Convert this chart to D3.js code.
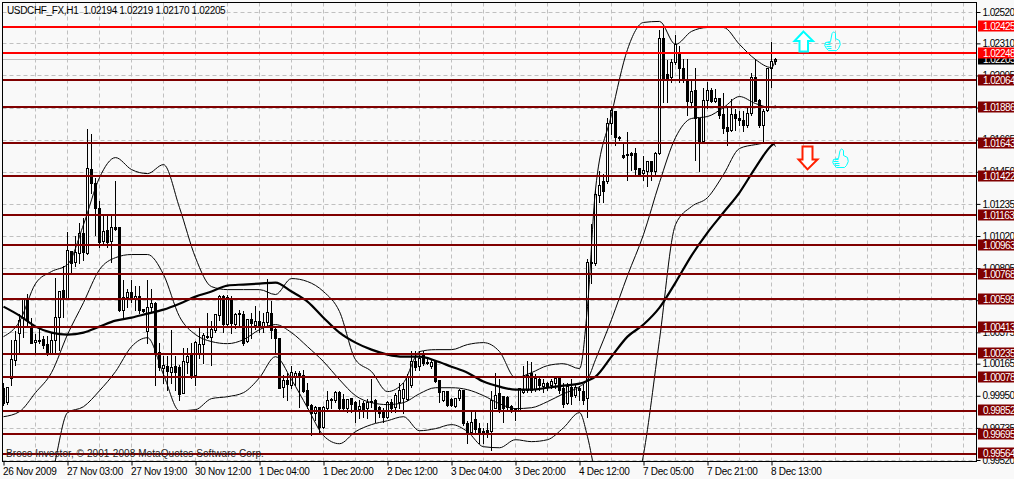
<!DOCTYPE html>
<html><head><meta charset="utf-8">
<script src="https://cdn.jsdelivr.net/npm/d3@7"></script>
<style>
html,body{margin:0;padding:0;background:#f9f9f9;overflow:hidden}
svg{display:block}
text{font-family:"Liberation Sans",Arial,sans-serif;font-size:10px;white-space:pre}
</style></head><body>
<svg id="c" width="1014" height="479"></svg>
<script>
// Prices are held as broker points (1 point = 0.00001)
const POINT = 1e-5;
const highs = [100045,100018,100333,100393,100507,100614,100641,100480,100373,100413,100360,100360,100380,100748,100661,100829,101056,100929,101030,101117,101150,101746,101713,101418,101264,101177,101177,101164,101398,101090,100735,100674,100735,100695,100695,100534,100735,100674,100587,100313,100226,100226,100400,100226,100165,100279,100279,100313,100326,100427,100380,100514,100460,100507,100634,100634,100634,100628,100514,100534,100527,100473,100514,100561,100527,100514,100741,100594,100413,100346,100098,100112,100159,100125,100125,100132,100045,99904,99891,99877,99891,99991,99944,99991,99991,99971,99937,99937,99924,99931,99924,99937,100071,99937,99891,99877,99924,99937,99978,100045,100045,100105,100259,100259,100259,100259,100212,100205,100192,100065,99991,99991,99944,99944,100004,99998,99790,99857,99857,99777,99743,99777,99991,100112,100071,99958,99958,99897,99877,100011,100159,100192,100185,100105,100078,100071,100051,100071,100085,100078,100045,100045,100071,100038,100025,100038,100875,101110,101344,101465,101445,101820,101900,101867,101693,101653,101720,101586,101619,101485,101565,101519,101519,101586,102403,102423,102202,102215,102370,102296,102215,102215,102068,102155,101813,102021,102055,102021,102014,101954,101981,101887,101947,101880,101867,101867,101887,102115,102215,101947,101880,102148,102323,102219];
const lows = [99891,99897,100025,100159,100239,100346,100413,100306,100246,100306,100272,100226,100239,100239,100259,100480,100607,100775,100822,100842,100862,100902,101311,101030,100949,100962,100949,100849,101063,100520,100473,100547,100581,100527,100507,100514,100306,100514,100025,100125,100038,99991,100038,99991,99924,99971,100105,100071,100025,100205,100172,100339,100159,100380,100460,100380,100420,100373,100406,100427,100293,100313,100339,100400,100380,100380,100413,100339,100239,100004,99944,99924,100004,100025,99877,99978,99870,99690,99790,99703,99736,99857,99870,99911,99857,99857,99844,99844,99777,99803,99810,99803,99877,99777,99810,99777,99803,99844,99844,99870,99837,99924,100011,100125,100125,100159,100165,100138,100045,99911,99917,99884,99884,99877,99924,99757,99636,99703,99703,99636,99636,99676,99589,99870,99844,99777,99857,99844,99790,99850,99971,99978,99978,99984,99991,99978,99991,100004,100004,99971,99877,99897,99897,99944,99924,99897,99810,100708,100829,101251,101251,101378,101700,101632,101666,101545,101398,101465,101431,101431,101398,101358,101398,101431,101572,101914,101914,102048,102175,102048,102048,101833,101900,101532,101452,101653,101880,101914,101914,101813,101713,101632,101720,101733,101766,101720,101753,101833,101921,101753,101646,101860,102021,102170];
const opens = [100004,99911,100071,100192,100373,100480,100607,100413,100313,100319,100333,100299,100239,100326,100480,100661,100607,100922,100849,100909,101043,100909,101472,101378,101210,100989,101063,100989,101083,101083,100527,100614,100648,100607,100621,100534,100386,100547,100574,100246,100138,100152,100112,100152,100145,99971,100179,100226,100092,100239,100299,100353,100346,100393,100494,100621,100433,100594,100433,100500,100500,100319,100467,100427,100453,100413,100447,100507,100400,100339,100011,100058,100025,100078,100105,100092,99991,99891,99837,99877,99743,99870,99924,99924,99978,99931,99870,99937,99911,99864,99904,99870,99911,99924,99877,99857,99810,99911,99877,99911,99937,99931,100025,100185,100152,100232,100179,100152,100185,100058,99924,99984,99931,99884,99937,99991,99770,99710,99797,99736,99716,99723,99716,99870,99971,99951,99944,99884,99870,99857,99978,99991,100105,99998,100065,100018,100038,100025,100038,100071,100004,99904,100011,99958,100004,99984,99937,100849,100842,101297,101391,101385,101780,101860,101686,101565,101572,101579,101579,101478,101445,101452,101519,101458,101579,102349,102102,102088,102182,102236,102148,102068,101914,102001,101807,101659,101934,102001,101921,101941,101840,101753,101733,101840,101813,101800,101766,101847,102088,101934,101766,101867,102142,102194];
const closes = [99904,100011,100199,100326,100460,100607,100460,100306,100326,100326,100293,100239,100326,100480,100654,100607,100929,100842,100916,101043,100916,101478,101378,101210,100983,101056,100983,101083,101070,100527,100614,100648,100607,100621,100527,100520,100547,100574,100239,100145,100159,100118,100145,100112,99964,100185,100219,100092,100313,100299,100360,100346,100400,100500,100621,100433,100614,100440,100500,100507,100306,100467,100440,100453,100420,100447,100514,100393,100339,100004,100058,100031,100112,100105,100078,99984,99891,99837,99877,99743,99877,99924,99931,99978,99870,99870,99931,99897,99857,99884,99864,99911,99917,99864,99837,99810,99911,99870,99958,99991,99998,100085,100185,100145,100205,100172,100172,100179,100051,99978,99984,99891,99891,99937,99991,99770,99710,99777,99730,99703,99710,99703,99924,99958,99857,99870,99877,99857,99850,100004,99991,100092,99991,100071,100025,100038,100011,100051,100071,99991,99897,100018,99951,100011,99991,99924,100849,100842,101304,101364,101318,101780,101867,101686,101673,101552,101565,101565,101472,101438,101465,101519,101452,101579,102349,102081,102075,102182,102303,102148,102068,101921,101994,101807,101653,101934,102001,101921,101947,101833,101746,101726,101840,101813,101800,101766,101847,102088,101927,101766,101860,102142,102195,102205];

// Indicator readings at these bars
const bandBars = [0,4,8,12,16,20,24,28,32,36,40,44,48,52,56,60,64,68,72,76,80,84,88,92,96,100,104,108,112,116,120,124,128,132,136,140,144,146,148,152,156,160,164,168,172,176,180,184,188,192,193];
const bandUpper = [100346,100447,100701,100782,100829,101096,101411,101545,101465,101438,101498,101210,100875,100681,100661,100661,100661,100628,100735,100715,100648,100514,100192,100112,99978,100038,100246,100259,100259,100293,100306,100246,100071,100105,100152,100165,100132,100547,101331,101833,102269,102450,102457,102303,102390,102416,102416,102303,102202,102148,102202];
const bandMiddle = [99810,99844,99971,100105,100360,100574,100795,100875,100896,100896,100762,100480,100360,100313,100299,100326,100393,100427,100373,100279,100179,100058,99951,99904,99891,99904,99964,100004,100004,99991,99951,99897,99864,99870,99911,99964,100011,100058,100192,100460,100755,101030,101378,101679,101807,101820,101880,101954,101907,101880,101894];
const bandLower = [99120,99187,99288,99422,99837,99877,99984,100112,100279,100339,100092,99850,99857,99931,99944,99971,100071,100212,100058,99870,99683,99629,99710,99757,99783,99810,99716,99730,99757,99710,99609,99602,99656,99643,99656,99736,99837,99676,99422,99120,99120,99556,100326,101096,101217,101277,101431,101606,101632,101646,101619];
const movingAvg = [100547,100487,100413,100373,100360,100373,100413,100453,100473,100500,100527,100567,100614,100648,100688,100695,100701,100708,100648,100581,100473,100373,100306,100259,100226,100212,100212,100185,100145,100105,100045,100011,99991,99991,100004,100018,100031,100051,100078,100212,100346,100427,100540,100708,100889,101043,101177,101311,101478,101626,101646];

const redLevels = [1.02425,1.02248];
const darkLevels = [1.02064,1.01886,1.01643,1.01422,1.01163,1.00963,1.00768,1.00599,1.00413,1.00235,1.00078,0.99852,0.99695,0.99564];
const bidPrice = 1.02205;
const priceTicks = [1.02520,1.02310,1.02095,1.01880,1.01665,1.01450,1.01235,1.01020,1.00805,1.00590,1.00375,1.00165,0.99950,0.99735,0.99520];
const timeBars = [0,16,32,48,64,80,96,112,128,144,160,176,192];
const timeLabels = ["26 Nov 2009","27 Nov 03:00","27 Nov 19:00","30 Nov 12:00","1 Dec 04:00","1 Dec 20:00","2 Dec 12:00","3 Dec 04:00","3 Dec 20:00","4 Dec 12:00","7 Dec 05:00","7 Dec 21:00","8 Dec 13:00"];
const titleText = "USDCHF_FX,H1  1.02194 1.02219 1.02170 1.02205";
const creditText = "Broco Investor, \u00A9 2001-2008 MetaQuotes Software Corp.";

const L=2.5,T=2.5,R=976.5,B=461.5;
const svg=d3.select("#c");
const x=d3.scaleLinear().domain([0,192]).range([3.5,771.5]);
const y=d3.scaleLinear().domain([0.9952,1.0252]).range([460,12]);
const snap=v=>Math.round(v)+0.5;

svg.append("defs").append("clipPath").attr("id","plot").append("rect").attr("x",L).attr("y",T).attr("width",R-L).attr("height",B-T);

// gridlines
const gridX=d3.range(32,992,32).filter(i=>x(0)+i<R-5).map(i=>x(0)+i);
svg.append("g").selectAll("line").data(gridX).join("line")
 .attr("x1",d=>d).attr("x2",d=>d).attr("y1",T).attr("y2",B)
 .attr("stroke","#c0c0c0").attr("stroke-dasharray","4 3");
svg.append("g").selectAll("line").data(priceTicks).join("line")
 .attr("x1",L).attr("x2",R).attr("y1",d=>snap(y(d))).attr("y2",d=>snap(y(d)))
 .attr("stroke","#c0c0c0").attr("stroke-dasharray","4 3");

// bid line
svg.append("line").attr("x1",L).attr("x2",R).attr("y1",snap(y(bidPrice))).attr("y2",snap(y(bidPrice))).attr("stroke","#c0c0c0");

// candles
const bars=highs.map((h,i)=>({i,h:h*POINT,l:lows[i]*POINT,o:opens[i]*POINT,c:closes[i]*POINT}));
const cg=svg.append("g").attr("clip-path","url(#plot)").attr("shape-rendering","crispEdges");
cg.selectAll("line.w").data(bars).join("line").attr("class","w")
 .attr("x1",d=>x(d.i)).attr("x2",d=>x(d.i))
 .attr("y1",d=>snap(y(d.h))).attr("y2",d=>snap(y(d.l))).attr("stroke","#000");
cg.selectAll("rect.b").data(bars).join("rect").attr("class","b")
 .attr("x",d=>x(d.i)-1).attr("width",2)
 .attr("y",d=>snap(y(Math.max(d.o,d.c))))
 .attr("height",d=>Math.max(1,snap(y(Math.min(d.o,d.c)))-snap(y(Math.max(d.o,d.c)))))
 .attr("fill",d=>d.c>=d.o?"#fff":"#000").attr("stroke","#000");

// indicators
const line=d3.line().x((d,i)=>x(bandBars[i])).y(d=>y(d*POINT)).curve(d3.curveMonotoneX);
const ig=svg.append("g").attr("clip-path","url(#plot)").attr("fill","none").attr("stroke","#000");
[bandUpper,bandMiddle,bandLower].forEach(s=>ig.append("path").attr("d",line(s)).attr("stroke-width",1));
ig.append("path").attr("d",line(movingAvg)).attr("stroke-width",2.2);

// levels
const lv=svg.append("g").attr("shape-rendering","crispEdges");
const allLevels=darkLevels.map(p=>({p,col:"#800000"})).concat(redLevels.map(p=>({p,col:"#ff0000"})));
lv.selectAll("line").data(allLevels).join("line")
 .attr("x1",L).attr("x2",R).attr("y1",d=>Math.round(y(d.p)+0.4)).attr("y2",d=>Math.round(y(d.p)+0.4))
 .attr("stroke",d=>d.col).attr("stroke-width",2);

// chart texts
svg.append("text").attr("x",7).attr("y",14).attr("fill","#000").style("letter-spacing","-0.35px").text(titleText);
svg.append("text").attr("x",6).attr("y",457).attr("fill","#222").style("letter-spacing","0.07px").text(creditText);

// annotations
const arrowUp="M0,0 L-9,9.5 L-4,9.5 L-4,20 L4.5,20 L4.5,9.5 L9.5,9.5 Z";
const arrowDown="M-5,0 L5,0 L5,13 L10,13 L0,23 L-9,13 L-5,13 Z";
const thumb="M7,10 L8.5,2 Q10,-1 12,2 L12,7 L16,9 Q18,13 15,17 L13,19 L5,19 L3,17 Q0,14 2,11 Z M2,13 H7 M3,15 H8 M4,17 H8 M4,11 H7";
svg.append("path").attr("d",arrowUp).attr("transform",`translate(${x(200)},${y(1.02389)})`).attr("fill","#fff").attr("stroke","#00ffff").attr("stroke-width",2);
svg.append("path").attr("d",arrowDown).attr("transform",`translate(${x(201)},${y(1.0162)})`).attr("fill","#fff").attr("stroke","#ff2000").attr("stroke-width",2);
svg.append("path").attr("d",thumb).attr("transform",`translate(${x(205)},${y(1.02389)})`).attr("fill","none").attr("stroke","#00ffff");
svg.append("path").attr("d",thumb).attr("transform",`translate(${x(207)},${y(1.01606)})`).attr("fill","none").attr("stroke","#00ffff");

// frame
svg.append("rect").attr("x",L).attr("y",T).attr("width",R-L).attr("height",B-T).attr("fill","none").attr("stroke","#000");

// axes
const yAxis=d3.axisRight(y).tickValues(priceTicks).tickFormat(d3.format(".5f")).tickSize(4).tickPadding(2);
const ya=svg.append("g").attr("transform",`translate(${R},0)`).call(yAxis);
ya.select(".domain").remove();
ya.selectAll("text").attr("fill","#000").attr("font-size",null).attr("font-family",null).style("letter-spacing","-0.6px");
const xAxis=d3.axisBottom(x).tickValues(timeBars).tickFormat((d,i)=>timeLabels[i]).tickSize(4).tickPadding(2);
const xa=svg.append("g").attr("transform",`translate(0,${B})`).call(xAxis);
xa.select(".domain").remove();
xa.selectAll("text").attr("text-anchor","start").attr("dx",-1).attr("fill","#000").attr("font-family",null).style("letter-spacing","-0.3px");

// price tags
const tags=[{p:bidPrice,bg:"#000"}].concat(allLevels.map(d=>({p:d.p,bg:d.col})));
const tg=svg.append("g").selectAll("g").data(tags).join("g").attr("transform",d=>`translate(978,${Math.round(y(d.p))})`);
tg.append("rect").attr("x",0).attr("y",-5.5).attr("width",36).attr("height",11).attr("fill",d=>d.bg);
tg.append("text").attr("x",5).attr("y",4).attr("fill","#fff").style("letter-spacing","-0.6px").text(d=>d3.format(".5f")(d.p));
</script>
</body></html>
